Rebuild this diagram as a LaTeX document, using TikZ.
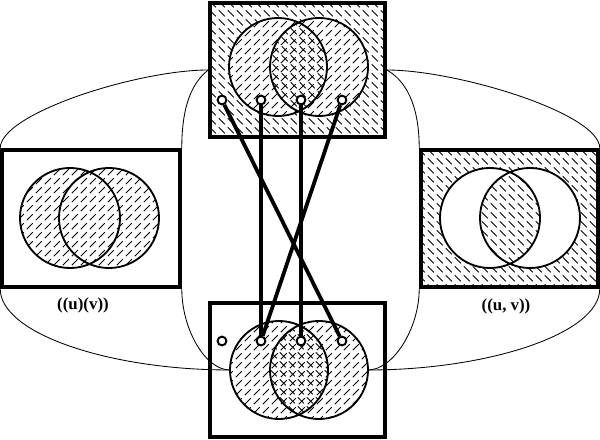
\documentclass[tikz,border=0pt]{standalone}
\usepackage{fontspec}
\setmainfont{Liberation Serif}
\usetikzlibrary{patterns}
\pgfdeclarepatternformonly{hatchne}{\pgfqpoint{0pt}{0pt}}{\pgfqpoint{6.2pt}{6.2pt}}{\pgfqpoint{6.2pt}{6.2pt}}{
	\pgfsetlinewidth{0.7pt}
	\pgfpathmoveto{\pgfqpoint{0.6pt}{0.6pt}}
	\pgfpathlineto{\pgfqpoint{5pt}{5pt}}
	\pgfusepath{stroke}}
\pgfdeclarepatternformonly{hatchnw}{\pgfqpoint{0pt}{0pt}}{\pgfqpoint{6.2pt}{6.2pt}}{\pgfqpoint{6.2pt}{6.2pt}}{
	\pgfsetlinewidth{0.7pt}
	\pgfpathmoveto{\pgfqpoint{0.6pt}{5.6pt}}
	\pgfpathlineto{\pgfqpoint{5pt}{1.2pt}}
	\pgfusepath{stroke}}
\tikzstyle{panel} = [rectangle, draw=black, line width=2.5pt, inner sep=0pt]
\tikzstyle{term} = [circle, draw=black, fill=white, line width=1.4pt, minimum size=0.22cm, inner sep=0pt]
\tikzstyle{wire} = [line width=2.7pt]
\tikzstyle{link} = [line width=0.6pt]
\tikzstyle{venn} = [line width=1.3pt]
\tikzstyle{caption} = [font=\fontsize{12}{14}\selectfont\bfseries]
\newcommand{\rv}{1.225cm}
\newcommand{\rs}{1.25cm}

\begin{document}
\begin{tikzpicture}[x=0.025cm, y=-0.025cm]
			\useasboundingbox (0,0) rectangle (600,440);
			\node[panel, minimum width=4.375cm, minimum height=3.35cm, pattern=hatchnw](top) at (297.5,70){};
			\node[panel, minimum width=4.375cm, minimum height=3.35cm](bottom) at (297.5,370){};
			\node[panel, minimum width=4.45cm, minimum height=3.425cm](left) at (91,218.5){};
			\node[panel, minimum width=4.425cm, minimum height=3.425cm, pattern=hatchnw](right) at (509.5,218.5){};
			\coordinate (tL) at (278,67);
			\coordinate (tR) at (319,67);
			\coordinate (bL) at (279,370);
			\coordinate (bR) at (319,370);
			\coordinate (lL) at (70,218);
			\coordinate (lR) at (109,218);
			\coordinate (rL) at (490,218);
			\coordinate (rR) at (530,218);
			\coordinate (bLw) at ([xshift=-\rv]bL);
			\coordinate (bRe) at ([xshift=\rv]bR);
			% top
			\fill[white, even odd rule] (tL) circle[radius=\rv] (tR) circle[radius=\rv];
			\path[pattern=hatchne] (tL) circle[radius=\rv] (tR) circle[radius=\rv];
			\draw[venn] (tL) circle[radius=\rv] (tR) circle[radius=\rv];
			% bottom
			\path[pattern=hatchne] (bL) circle[radius=\rv] (bR) circle[radius=\rv];
			\begin{scope}
				\clip (bL) circle[radius=\rv];
				\path[pattern=hatchnw] (bR) circle[radius=\rv];
			\end{scope}
			\draw[venn] (bL) circle[radius=\rv] (bR) circle[radius=\rv];
			% left and right
			\path[pattern=hatchne] (lL) circle[radius=\rs] (lR) circle[radius=\rs];
			\draw[venn] (lL) circle[radius=\rs] (lR) circle[radius=\rs];
			\fill[white, even odd rule] (rL) circle[radius=\rs] (rR) circle[radius=\rs];
			\draw[venn] (rL) circle[radius=\rs] (rR) circle[radius=\rs];
			\node[caption](uv) at (83,305){((u)(v))};
			\node[caption](upv) at (506,306){((u, v))};
			\draw[link] (top.west) .. controls +(-70,0) and +(0,-35) .. (left.north west);
			\draw[link] (top.west) .. controls +(-15,12) and +(0,-45) .. (left.north east);
			\draw[link] (top.east) .. controls +(18,10) and +(0,-45) .. (right.north west);
			\draw[link] (top.east) .. controls +(70,0) and +(0,-35) .. (right.north east);
			\draw[link] (left.south west) .. controls +(0,45) and +(-120,0) .. (bLw);
			\draw[link] (left.south east) .. controls +(0,40) and +(-25,0) .. (bLw);
			\draw[link] (right.south west) .. controls +(0,40) and +(25,0) .. (bRe);
			\draw[link] (right.south east) .. controls +(0,45) and +(120,0) .. (bRe);
			\node[term](t1) at (222,100){};
			\node[term](t2) at (261,100){};
			\node[term](t3) at (301,100){};
			\node[term](t4) at (342,100){};
			\node[term](b1) at (222,341){};
			\node[term](b2) at (261,341){};
			\node[term](b3) at (301,341){};
			\node[term](b4) at (342,341){};
			\draw[wire] (t1) -- (b4);
			\draw[wire] (t2) -- (b2);
			\draw[wire] (t3) -- (b3);
			\draw[wire] (t4) -- (b2);
		\end{tikzpicture}
\end{document}
